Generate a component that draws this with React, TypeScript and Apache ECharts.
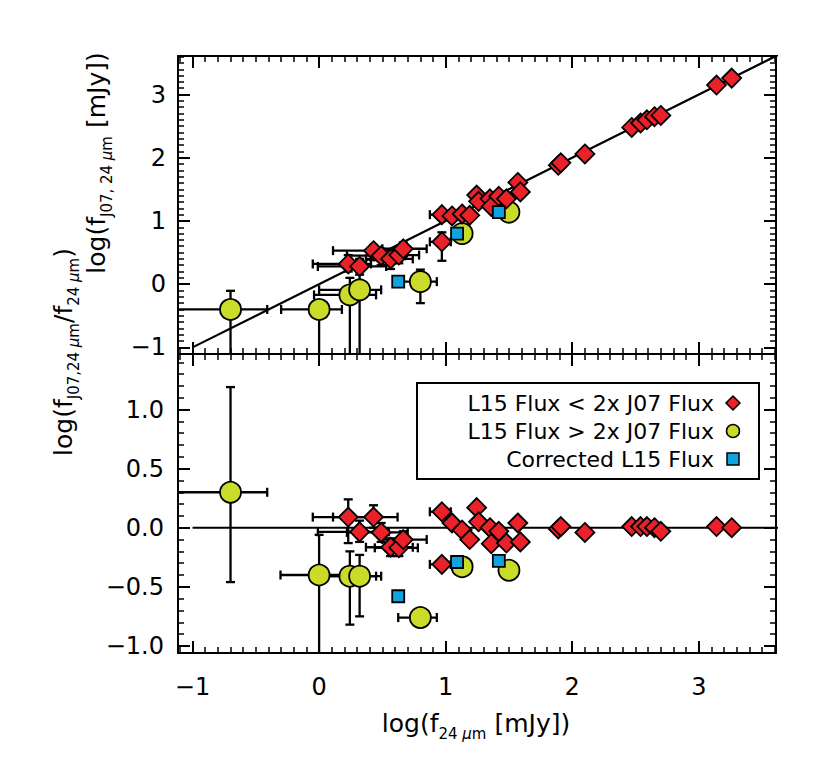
import { useEffect, useRef } from "react";
import * as echarts from "echarts";

// ---------- axis ranges and tick labels ----------
const xRange = [-1.115, 3.61];
const topYRange = [-1.105, 3.61];
const bottomYRange = [-1.06, 1.47];
const xMajorTicks = [-1, 0, 1, 2, 3];
const topYMajorTicks = [-1, 0, 1, 2, 3];
const bottomYMajorTicks = [-1.0, -0.5, 0.0, 0.5, 1.0];
const minorStep = 0.1;

// ---------- data: L15 Flux < 2x J07 Flux (red diamonds) ----------
const diamondX = [0.23, 0.32, 0.43, 0.49, 0.565, 0.63, 0.665, 0.97, 0.97, 1.05, 1.13, 1.19, 1.245, 1.26, 1.35, 1.36, 1.42, 1.48, 1.57, 1.59, 1.89, 1.91, 2.10, 2.47, 2.54, 2.59, 2.65, 2.70, 3.14, 3.26];
const diamondJ07 = [0.32, 0.28, 0.53, 0.45, 0.40, 0.46, 0.56, 0.67, 1.10, 1.08, 1.11, 1.09, 1.41, 1.31, 1.35, 1.23, 1.39, 1.35, 1.61, 1.46, 1.88, 1.92, 2.06, 2.48, 2.55, 2.60, 2.65, 2.67, 3.15, 3.26];
const diamondRatio = [0.09, -0.035, 0.09, -0.04, -0.165, -0.17, -0.10, -0.31, 0.135, 0.04, -0.02, -0.10, 0.17, 0.05, 0.0, -0.135, -0.03, -0.13, 0.04, -0.12, -0.01, 0.01, -0.04, 0.01, 0.01, 0.01, 0.0, -0.03, 0.01, 0.0];

// ---------- data: L15 Flux > 2x J07 Flux (green circles) ----------
const circleX = [-0.70, 0.0, 0.243, 0.32, 0.80, 1.13, 1.50];
const circleJ07 = [-0.40, -0.40, -0.17, -0.09, 0.04, 0.80, 1.14];
const circleRatio = [0.30, -0.40, -0.41, -0.41, -0.76, -0.33, -0.36];

// ---------- data: Corrected L15 Flux (blue squares) ----------
const squareX = [0.625, 1.09, 1.42];
const squareJ07 = [0.04, 0.80, 1.14];
const squareRatio = [-0.58, -0.29, -0.28];

// ---------- error bars: [x, y, xLow, xHigh, yLow, yHigh] ----------
const topErrorBars = [
  [0.23, 0.32, -0.05, 0.41, 0.2, 0.46],
  [0.32, 0.28, -0.01, 0.53, 0.2, 0.40],
  [0.43, 0.53, 0.11, 0.62, 0.38, 0.62],
  [0.49, 0.45, 0.22, 0.68, 0.30, 0.56],
  [0.565, 0.40, 0.37, 0.74, 0.24, 0.50],
  [0.63, 0.46, 0.44, 0.79, 0.33, 0.56],
  [0.665, 0.56, 0.50, 0.85, 0.44, 0.66],
  [0.97, 0.67, 0.875, 1.04, 0.37, 0.82],
  [0.97, 1.10, 0.875, 1.04, 1.10, 1.10],
  [-0.70, -0.40, -2.0, -0.41, -2.0, -0.105],
  [0.0, -0.40, -0.30, 0.18, -2.0, -0.36],
  [0.243, -0.17, -0.04, 0.45, -2.0, 0.10],
  [0.32, -0.09, 0.0, 0.49, -2.0, 0.15],
  [0.80, 0.04, 0.64, 0.93, -0.30, 0.23],
];
const bottomErrorBars = [
  [0.23, 0.09, -0.05, 0.41, -0.13, 0.24],
  [0.32, -0.035, -0.01, 0.55, -0.12, 0.06],
  [0.43, 0.09, 0.11, 0.62, 0.0, 0.19],
  [0.49, -0.04, 0.22, 0.70, -0.12, 0.04],
  [0.565, -0.165, 0.37, 0.74, -0.24, -0.09],
  [0.63, -0.17, 0.44, 0.78, -0.24, -0.10],
  [0.665, -0.10, 0.50, 0.85, -0.17, -0.03],
  [0.97, -0.31, 0.875, 1.04, -0.31, -0.31],
  [0.97, 0.135, 0.875, 1.04, 0.135, 0.135],
  [-0.70, 0.30, -2.0, -0.41, -0.46, 1.19],
  [0.0, -0.40, -0.305, 0.18, -2.0, -0.06],
  [0.243, -0.41, -0.04, 0.45, -0.82, -0.20],
  [0.32, -0.41, 0.0, 0.49, -0.75, -0.23],
  [0.80, -0.76, 0.625, 0.93, -0.76, -0.76],
];

// ---------- reference lines ----------
const oneToOneLine = [[-1, -1], [3.7, 3.7]];
const zeroLine = [[-1, 0], [3.7, 0]];

const legendLabels = ["L15 Flux < 2x J07 Flux", "L15 Flux > 2x J07 Flux", "Corrected L15 Flux"];

const FONT = "DejaVu Sans";
const RED = "#ea2129";
const GREEN = "#cbdb2a";
const BLUE = "#11a3e0";

function minorList(range: number[], step: number) {
  const out: number[] = [];
  const start = Math.ceil(range[0] / step - 1e-9);
  const end = Math.floor(range[1] / step + 1e-9);
  for (let i = start; i <= end; i++) out.push(+(i * step).toFixed(3));
  return out;
}

const fmtMinus = (v: number, digits: number) => {
  const s = Math.abs(v) < 1e-9 ? (0).toFixed(digits) : v.toFixed(digits);
  return s.replace("-", "\u2212");
};

function makeAxes(
  gridIndex: number,
  range: number[],
  majors: number[],
  posMain: string,
  posOpp: string,
  showLabels: boolean,
  digits: number,
  margin: number
) {
  const minors = minorList(range, minorStep);
  const base = {
    type: "value",
    gridIndex,
    min: range[0],
    max: range[1],
    splitLine: { show: false },
    splitArea: { show: false },
  };
  const line = { show: true, onZero: false, lineStyle: { color: "#000", width: 2 } };
  const noLine = { show: false, onZero: false };
  const majorTick = { show: true, inside: true, length: 12, customValues: majors, lineStyle: { color: "#000", width: 2 } };
  const minorTick = { show: true, inside: true, length: 6, customValues: minors, lineStyle: { color: "#000", width: 1.5 } };
  return [
    {
      ...base,
      position: posMain,
      axisLine: line,
      axisTick: majorTick,
      axisLabel: showLabels
        ? {
            show: true,
            customValues: majors,
            formatter: (v: number) => fmtMinus(v, digits),
            margin,
            fontSize: 24,
            fontFamily: FONT,
            color: "#000",
          }
        : { show: false },
    },
    { ...base, position: posMain, axisLine: noLine, axisTick: minorTick, axisLabel: { show: false } },
    { ...base, position: posOpp, axisLine: line, axisTick: majorTick, axisLabel: { show: false } },
    { ...base, position: posOpp, axisLine: noLine, axisTick: minorTick, axisLabel: { show: false } },
  ];
}

function errorBarSeries(xAxisIndex: number, yAxisIndex: number, data: number[][]) {
  return {
    type: "custom",
    xAxisIndex,
    yAxisIndex,
    clip: true,
    silent: true,
    z: 2,
    data,
    renderItem: (_params: any, api: any) => {
      const x = api.value(0);
      const y = api.value(1);
      const xlo = api.value(2);
      const xhi = api.value(3);
      const ylo = api.value(4);
      const yhi = api.value(5);
      const cap = 4.5;
      const st = { stroke: "#000", lineWidth: 2.3 };
      const children: any[] = [];
      const seg = (x1: number, y1: number, x2: number, y2: number) =>
        children.push({ type: "line", shape: { x1, y1, x2, y2 }, style: st });
      if (xlo !== xhi) {
        const a = api.coord([xlo, y]);
        const b = api.coord([xhi, y]);
        seg(a[0], a[1], b[0], b[1]);
        seg(a[0], a[1] - cap, a[0], a[1] + cap);
        seg(b[0], b[1] - cap, b[0], b[1] + cap);
      }
      if (ylo !== yhi) {
        const a = api.coord([x, ylo]);
        const b = api.coord([x, yhi]);
        seg(a[0], a[1], b[0], b[1]);
        seg(a[0] - cap, a[1], a[0] + cap, a[1]);
        seg(b[0] - cap, b[1], b[0] + cap, b[1]);
      }
      return { type: "group", children };
    },
  };
}

const zip = (xs: number[], ys: number[]) => xs.map((x, i) => [x, ys[i]]);

function pointSeries(xAxisIndex: number, yAxisIndex: number, xs: number[], ys: number[], kind: string) {
  const sym = kind === "d" ? "diamond" : kind === "c" ? "circle" : "rect";
  const size = kind === "d" ? 19 : kind === "c" ? 21 : 12;
  const color = kind === "d" ? RED : kind === "c" ? GREEN : BLUE;
  return {
    type: "scatter",
    xAxisIndex,
    yAxisIndex,
    symbol: sym,
    symbolSize: size,
    z: kind === "c" ? 3 : kind === "d" ? 4 : 5,
    itemStyle: { color, borderColor: "#000", borderWidth: 1.8, opacity: 1 },
    data: zip(xs, ys),
  };
}

const rich = (size: number, sub: number) => ({
  n: { fontSize: size, fontFamily: FONT, color: "#000", lineHeight: 31, verticalAlign: "top" },
  s: { fontSize: sub, fontFamily: FONT, color: "#000", lineHeight: sub, verticalAlign: "bottom" },
  i: { fontSize: sub, fontFamily: FONT, fontStyle: "italic", color: "#000", lineHeight: sub, verticalAlign: "bottom" },
});

export default function App() {
  const ref = useRef<HTMLDivElement>(null);
  useEffect(() => {
    if (!ref.current) return;
    const chart = echarts.init(ref.current, null, { renderer: "svg" });

    const grids = [
      { left: 178, top: 56, width: 598, height: 298 },
      { left: 178, top: 354, width: 598, height: 299 },
    ];
    const xAxes = [
      ...makeAxes(0, xRange, xMajorTicks, "bottom", "top", false, 0, 22),
      ...makeAxes(1, xRange, xMajorTicks, "bottom", "top", true, 0, 22),
    ];
    const yAxes = [
      ...makeAxes(0, topYRange, topYMajorTicks, "left", "right", true, 0, 12),
      ...makeAxes(1, bottomYRange, bottomYMajorTicks, "left", "right", true, 1, 14),
    ];

    const legendX = 733;
    const legendRows = [403, 431, 459];

    const option: any = {
      animation: false,
      backgroundColor: "#fff",
      grid: grids,
      xAxis: xAxes,
      yAxis: yAxes,
      series: [
        {
          type: "line",
          xAxisIndex: 0,
          yAxisIndex: 0,
          data: oneToOneLine,
          symbol: "none",
          clip: true,
          z: 1,
          lineStyle: { color: "#000", width: 2.2 },
        },
        errorBarSeries(0, 0, topErrorBars),
        pointSeries(0, 0, circleX, circleJ07, "c"),
        pointSeries(0, 0, diamondX, diamondJ07, "d"),
        pointSeries(0, 0, squareX, squareJ07, "s"),
        {
          type: "line",
          xAxisIndex: 4,
          yAxisIndex: 4,
          data: zeroLine,
          symbol: "none",
          clip: true,
          z: 1,
          lineStyle: { color: "#000", width: 2.2 },
        },
        errorBarSeries(4, 4, bottomErrorBars),
        pointSeries(4, 4, circleX, circleRatio, "c"),
        pointSeries(4, 4, diamondX, diamondRatio, "d"),
        pointSeries(4, 4, squareX, squareRatio, "s"),
      ],
      graphic: [
        {
          type: "text",
          x: 476,
          y: 726,
          style: {
            text: "{n|log(f}{s|24 }{i|\u03bc}{s|m}{n| [mJy])}",
            rich: rich(25, 15),
            align: "center",
            verticalAlign: "middle",
          },
        },
        {
          type: "text",
          x: 99,
          y: 163,
          rotation: Math.PI / 2,
          style: {
            text: "{n|log(f}{s|J07, 24 }{i|\u03bc}{s|m}{n| [mJy])}",
            rich: rich(25, 15),
            align: "center",
            verticalAlign: "middle",
          },
        },
        {
          type: "text",
          x: 66,
          y: 352,
          rotation: Math.PI / 2,
          style: {
            text: "{n|log(f}{s|J07,24 }{i|\u03bc}{s|m}{n|/f}{s|24 }{i|\u03bc}{s|m}{n|)}",
            rich: rich(25, 15),
            align: "center",
            verticalAlign: "middle",
          },
        },
        {
          type: "rect",
          shape: { x: 417, y: 383, width: 342, height: 96 },
          style: { fill: "#fff", stroke: "#000", lineWidth: 2 },
          z: 10,
        },
        ...legendLabels.map((t, i) => ({
          type: "text",
          x: 714,
          y: legendRows[i],
          z: 11,
          style: {
            text: t,
            font: `22px "${FONT}"`,
            fill: "#000",
            align: "right",
            verticalAlign: "middle",
          },
        })),
        {
          type: "polygon",
          z: 11,
          shape: {
            points: [
              [legendX, legendRows[0] - 7],
              [legendX + 7, legendRows[0]],
              [legendX, legendRows[0] + 7],
              [legendX - 7, legendRows[0]],
            ],
          },
          style: { fill: RED, stroke: "#000", lineWidth: 1.5 },
        },
        {
          type: "circle",
          z: 11,
          shape: { cx: legendX, cy: legendRows[1], r: 6.5 },
          style: { fill: GREEN, stroke: "#000", lineWidth: 1.5 },
        },
        {
          type: "rect",
          z: 11,
          shape: { x: legendX - 6, y: legendRows[2] - 6, width: 12, height: 12 },
          style: { fill: BLUE, stroke: "#000", lineWidth: 1.5 },
        },
      ],
    };
    chart.setOption(option);
    return () => chart.dispose();
  }, []);
  return (
    <div
      ref={ref}
      style={{ position: "fixed", left: 0, top: 0, width: 830, height: 767, background: "#fff" }}
    />
  );
}
